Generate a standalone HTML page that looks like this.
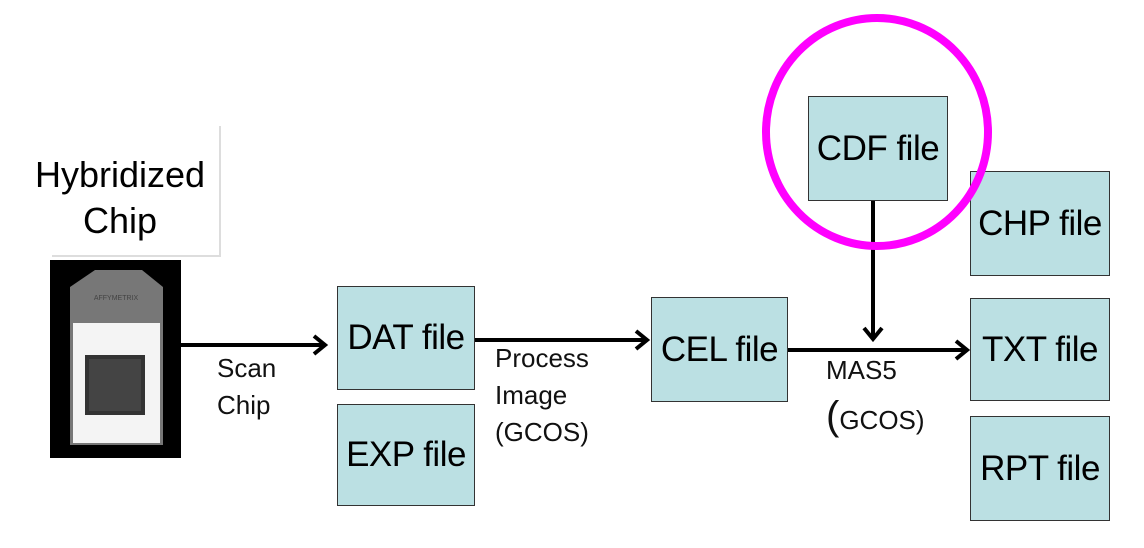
<!DOCTYPE html>
<html><head><style>
body{margin:0;width:1144px;height:548px;background:#fff;position:relative;overflow:hidden;font-family:"Liberation Sans",sans-serif}
.b{position:absolute;background:#bbe0e3;border:1.5px solid #333;box-sizing:border-box;display:flex;align-items:center;justify-content:center;font-size:35px;letter-spacing:-0.5px;color:#000;white-space:nowrap}
.t{position:absolute;font-size:26px;line-height:37px;color:#111}
</style></head><body>
<div style="position:absolute;left:52px;top:126px;width:169px;height:131px;border-right:2px solid #ddd;border-bottom:2px solid #ddd;box-sizing:border-box"></div>
<div class="t" style="left:20px;top:152px;width:200px;text-align:center;font-size:36px;line-height:46px;color:#000">Hybridized<br>Chip</div>
<svg style="position:absolute;left:0;top:0" width="1144" height="548">
<rect x="50" y="260" width="131" height="198" fill="#000"/>
<polygon points="95,270 142,270 163,287 163,445 70,445 70,287" fill="#777"/>
<rect x="73" y="323" width="87" height="120" fill="#f4f4f4"/>
<rect x="85" y="355" width="60" height="60" fill="#333"/>
<rect x="89" y="359" width="52" height="52" fill="#444"/>
<text x="116" y="300" font-size="7" fill="#444" text-anchor="middle" font-family="Liberation Sans">AFFYMETRIX</text>
<g stroke="#000" stroke-width="4" fill="none" stroke-linejoin="miter">
<line x1="181" y1="345" x2="322" y2="345"/><polyline points="314,336 325,345 314,354"/>
<line x1="474" y1="340" x2="644" y2="340"/><polyline points="636,331 647,340 636,349"/>
<line x1="787" y1="350" x2="964" y2="350"/><polyline points="956,341 967,350 956,359"/>
<line x1="873" y1="200" x2="873" y2="336"/><polyline points="864,328 873,339 882,328"/>
</g>
</svg>
<div class="b" style="left:337px;top:286px;width:138px;height:104px">DAT file</div>
<div class="b" style="left:337px;top:404px;width:138px;height:102px">EXP file</div>
<div class="b" style="left:651px;top:297px;width:137px;height:105px">CEL file</div>
<div class="b" style="left:808px;top:96px;width:140px;height:105px">CDF file</div>
<div class="b" style="left:970px;top:171px;width:140px;height:105px">CHP file</div>
<div class="b" style="left:970px;top:298px;width:140px;height:103px">TXT file</div>
<div class="b" style="left:970px;top:416px;width:140px;height:105px">RPT file</div>
<svg style="position:absolute;left:0;top:0" width="1144" height="548">
<ellipse cx="877" cy="132" rx="111" ry="114" fill="none" stroke="#ff00ff" stroke-width="8"/>
</svg>
<div class="t" style="left:217px;top:350px">Scan<br>Chip</div>
<div class="t" style="left:495px;top:340px">Process<br>Image<br>(GCOS)</div>
<div class="t" style="left:826px;top:352px">MAS5</div>
<div class="t" style="left:826px;top:398px"><span style="font-size:40px">(</span>GCOS)</div>
</body></html>
